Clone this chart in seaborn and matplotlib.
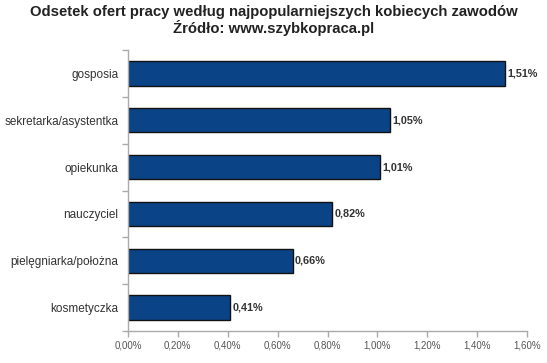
import numpy as np
import pandas as pd
import matplotlib
matplotlib.use('Agg')
import matplotlib.pyplot as plt
import seaborn as sns
from matplotlib.ticker import FixedLocator, FuncFormatter

# =====================
# DATA
# =====================
zawody = ['gosposia', 'sekretarka/asystentka', 'opiekunka', 'nauczyciel',
          'pielęgniarka/położna', 'kosmetyczka']
odsetek = [1.51, 1.05, 1.01, 0.82, 0.66, 0.41]
x_ticks = [0.0, 0.2, 0.4, 0.6, 0.8, 1.0, 1.2, 1.4, 1.6]

df = pd.DataFrame({'zawod': zawody, 'odsetek': odsetek})

# =====================
# STYLE
# =====================
sns.set_style('white')
plt.rcParams['font.family'] = ['Liberation Sans', 'DejaVu Sans']

fig = plt.figure(figsize=(5.47, 3.63), dpi=100, facecolor='white')
ax = fig.add_axes([128 / 547, 1 - 331 / 363, (527 - 128) / 547, (331 - 50) / 363])

sns.barplot(data=df, x='odsetek', y='zawod', orient='h', color='#0B4387',
            edgecolor='#111111', linewidth=1.0, width=0.52, saturation=1, ax=ax)

for i, v in enumerate(odsetek):
    ax.text(v + 0.01, i, f'{v:.2f}%'.replace('.', ','), va='center', ha='left',
            fontsize=7.8, fontweight='bold', color='#333333')

ax.set_xlim(0, 1.6)
ax.set_ylim(len(zawody) - 0.5, -0.5)
ax.set_xticks(x_ticks)
ax.xaxis.set_major_formatter(FuncFormatter(lambda v, p: f'{v:.2f}%'.replace('.', ',')))
ax.yaxis.set_major_locator(FixedLocator(np.arange(len(zawody))))
ax.yaxis.set_minor_locator(FixedLocator(np.arange(-0.5, len(zawody), 1)))
ax.set_yticklabels(zawody)
ax.tick_params(axis='y', which='major', left=True, length=0, pad=7, labelsize=8.5, labelcolor='#333333')
ax.tick_params(axis='y', which='minor', left=True, length=4, color='#aaaaaa', width=1)
ax.tick_params(axis='x', bottom=True, length=4, color='#aaaaaa', width=1, labelsize=7, labelcolor='#555555', pad=3)
ax.set_xlabel('')
ax.set_ylabel('')

for s in ['top', 'right']:
    ax.spines[s].set_visible(False)
for s in ['left', 'bottom']:
    ax.spines[s].set_color('#aaaaaa')
    ax.spines[s].set_linewidth(1)

fig.text(0.5, 1 - 12 / 363, 'Odsetek ofert pracy według najpopularniejszych kobiecych zawodów',
         ha='center', va='center', fontsize=10.7, fontweight='bold', color='#222222')
fig.text(0.5, 1 - 28 / 363, 'Źródło: www.szybkopraca.pl',
         ha='center', va='center', fontsize=10.7, fontweight='bold', color='#222222')

fig.savefig('out.png', dpi=100, facecolor='white')
